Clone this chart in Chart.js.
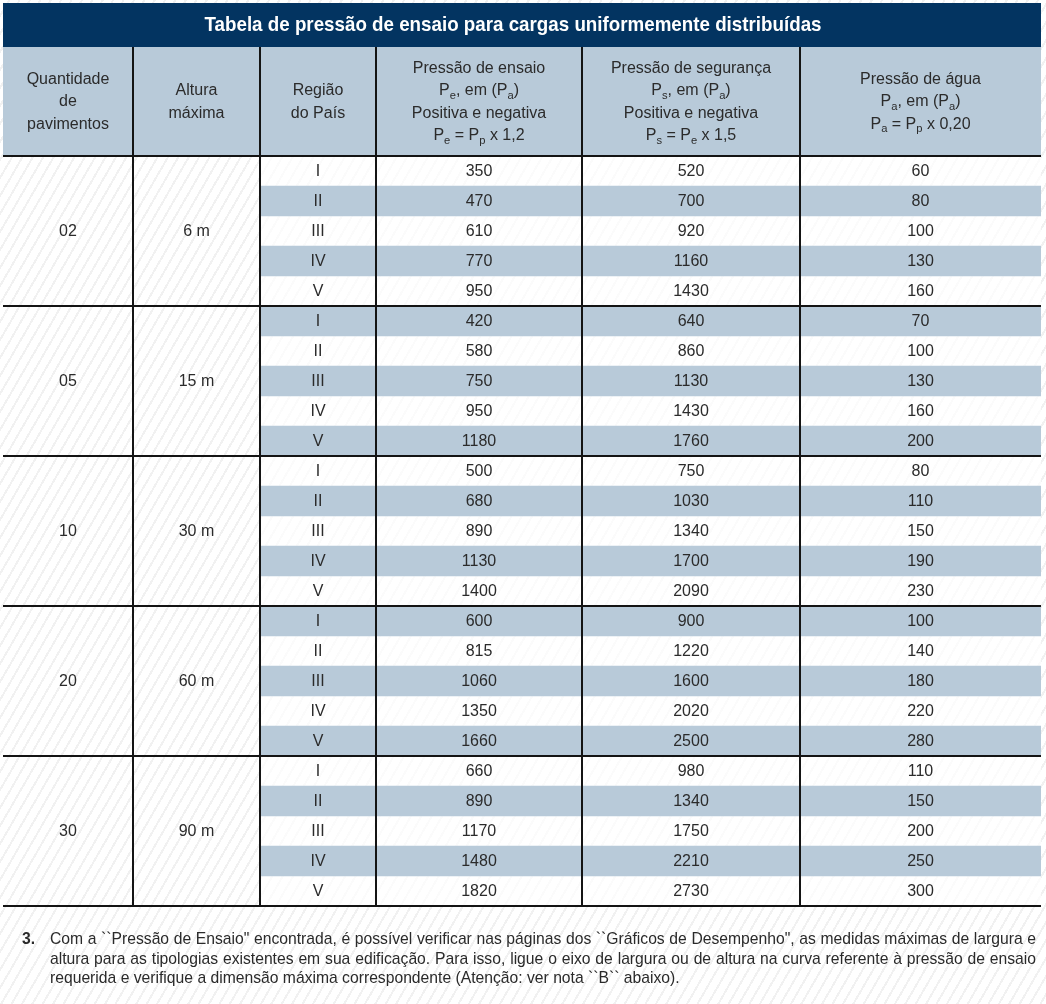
<!DOCTYPE html>
<html lang="pt">
<head>
<meta charset="utf-8">
<title>Tabela de pressão de ensaio</title>
<script src="https://cdn.jsdelivr.net/npm/chart.js@4.4.1/dist/chart.umd.min.js"></script>
<style>
html,body{margin:0;padding:0;background:#fff;}
#wrap{position:relative;width:1046px;height:1004px;overflow:hidden;
  background:repeating-linear-gradient(120deg,#fff 0,#fff 7px,#f1f1f1 7px,#f1f1f1 9px);}
#tabela{position:absolute;left:0;top:0;}
.nota{position:absolute;left:22px;top:929px;width:1014px;font-family:"Liberation Sans",Arial,sans-serif;
  font-size:15.7px;line-height:19.5px;color:#2a2a2a;}
.nota .num{position:absolute;left:0;top:0;font-weight:bold;}
.nota .txt{position:absolute;left:28px;top:0;width:986px;}
.nota .lin{white-space:nowrap;}
.nota .just{text-align:justify;text-align-last:justify;}
</style>
</head>
<body>
<div id="wrap">
  <canvas id="tabela" width="1046" height="1004"></canvas>
  <div class="nota">
    <span class="num">3.</span>
    <div class="txt">
      <div class="lin just">Com a ``Pressão de Ensaio" encontrada, é possível verificar nas páginas dos ``Gráficos de Desempenho", as medidas máximas de largura e</div>
      <div class="lin just">altura para as tipologias existentes em sua edificação. Para isso, ligue o eixo de largura ou de altura na curva referente à pressão de ensaio</div>
      <div class="lin">requerida e verifique a dimensão máxima correspondente (Atenção: ver nota ``B`` abaixo).</div>
    </div>
  </div>
</div>
<script>

// dados da tabela
var titulo = "Tabela de pressão de ensaio para cargas uniformemente distribuídas";
var pavimentos = ["02", "05", "10", "20", "30"];
var alturas = ["6 m", "15 m", "30 m", "60 m", "90 m"];
var regioes = ["I", "II", "III", "IV", "V"];
var pressaoEnsaio = [350, 470, 610, 770, 950, 420, 580, 750, 950, 1180, 500, 680, 890, 1130, 1400, 600, 815, 1060, 1350, 1660, 660, 890, 1170, 1480, 1820];
var pressaoSeguranca = [520, 700, 920, 1160, 1430, 640, 860, 1130, 1430, 1760, 750, 1030, 1340, 1700, 2090, 900, 1220, 1600, 2020, 2500, 980, 1340, 1750, 2210, 2730];
var pressaoAgua = [60, 80, 100, 130, 160, 70, 100, 130, 160, 200, 80, 110, 150, 190, 230, 100, 140, 180, 220, 280, 110, 150, 200, 250, 300];

// cabecalhos ( _x = subscrito )
var cabecalhos = [
  ["Quantidade", "de", "pavimentos"],
  ["Altura", "máxima"],
  ["Região", "do País"],
  ["Pressão de ensaio", "P_e, em (P_a)", "Positiva e negativa", "P_e = P_p x 1,2"],
  ["Pressão de segurança", "P_s, em (P_a)", "Positiva e negativa", "P_s = P_e x 1,5"],
  ["Pressão de água", "P_a, em (P_a)", "P_a = P_p x 0,20"]
];

// bordas das colunas (unidades do eixo x)
var colunas = [0, 130, 257, 373, 579, 797, 1038];

var AZUL = "#b8cad9";
var MARINHO = "#033461";
var TEXTO = "#2b2b2b";
var FONTE = '"Liberation Sans", Arial, sans-serif';

// linhas (uma por região de cada grupo)
var linhas = [];
pavimentos.forEach(function (p) {
  regioes.forEach(function (r) { linhas.push(p + " - " + r); });
});

// faixas azuis alternadas e faixas brancas
var faixasAzuis = linhas.map(function (l, i) {
  return i % 2 == 1 ? [colunas[2], colunas[6]] : null;
});
var faixasBrancas = linhas.map(function (l, i) {
  return i % 2 == 0 ? [colunas[2], colunas[6]] : null;
});

function partesTexto(s) {
  var partes = [];
  for (var i = 0; i < s.length; i++) {
    if (s[i] == "_" && i + 1 < s.length) {
      partes.push({ t: s[i + 1], sub: true });
      i++;
    } else {
      if (partes.length && !partes[partes.length - 1].sub) partes[partes.length - 1].t += s[i];
      else partes.push({ t: s[i], sub: false });
    }
  }
  return partes;
}

function textoRico(ctx, s, cx, cy, tam) {
  var partes = partesTexto(s);
  var total = 0;
  partes.forEach(function (p) {
    ctx.font = (p.sub ? tam * 0.7 : tam) + "px " + FONTE;
    p.w = ctx.measureText(p.t).width;
    total += p.w;
  });
  var x = cx - total / 2;
  ctx.textAlign = "left";
  partes.forEach(function (p) {
    ctx.font = (p.sub ? tam * 0.7 : tam) + "px " + FONTE;
    ctx.fillText(p.t, x, p.sub ? cy + tam * 0.3 : cy);
    x += p.w;
  });
}

var tabelaPlugin = {
  id: "tabela",
  afterDraw: function (chart) {
    var ctx = chart.ctx;
    var sx = chart.scales.x;
    var sy = chart.scales.y;
    var area = chart.chartArea;
    var esq = sx.getPixelForValue(colunas[0]);
    var dir = sx.getPixelForValue(colunas[6]);
    var faixa = sy.getPixelForValue(1) - sy.getPixelForValue(0);
    var topoTitulo = 3, baseTitulo = 47;

    ctx.save();

    // barra do titulo
    ctx.fillStyle = MARINHO;
    ctx.fillRect(esq, topoTitulo, dir - esq, baseTitulo - topoTitulo);
    ctx.fillStyle = "#ffffff";
    ctx.font = "bold 21px " + FONTE;
    ctx.textBaseline = "middle";
    ctx.textAlign = "center";
    var larg = ctx.measureText(titulo).width;
    var esc = 617 / larg;
    ctx.save();
    ctx.translate(513, 25);
    ctx.scale(esc, 1);
    ctx.fillText(titulo, 0, 0);
    ctx.restore();

    // fundo dos cabecalhos
    ctx.fillStyle = AZUL;
    ctx.fillRect(esq, baseTitulo, dir - esq, area.top - baseTitulo);

    // textos dos cabecalhos
    ctx.fillStyle = TEXTO;
    var meio = (baseTitulo + area.top) / 2 + 0.5;
    cabecalhos.forEach(function (linhasCab, c) {
      var cx = sx.getPixelForValue((colunas[c] + colunas[c + 1]) / 2);
      var n = linhasCab.length;
      linhasCab.forEach(function (s, k) {
        var cy = meio + (k - (n - 1) / 2) * 22.5;
        textoRico(ctx, s, cx, cy, 16);
      });
    });

    // textos do corpo
    ctx.font = "16px " + FONTE;
    ctx.textAlign = "center";
    ctx.fillStyle = TEXTO;
    var cxs = [];
    for (var c = 0; c < 6; c++) cxs.push(sx.getPixelForValue((colunas[c] + colunas[c + 1]) / 2));
    linhas.forEach(function (l, i) {
      var cy = sy.getPixelForValue(i) + 1;
      ctx.fillText(regioes[i % 5], cxs[2], cy);
      ctx.fillText(String(pressaoEnsaio[i]), cxs[3], cy);
      ctx.fillText(String(pressaoSeguranca[i]), cxs[4], cy);
      ctx.fillText(String(pressaoAgua[i]), cxs[5], cy);
    });
    pavimentos.forEach(function (p, g) {
      var cy = sy.getPixelForValue(g * 5 + 2) + 1;
      ctx.fillText(p, cxs[0], cy);
      ctx.fillText(alturas[g], cxs[1], cy);
    });

    // linhas verticais
    ctx.strokeStyle = "#141414";
    ctx.lineWidth = 2;
    ctx.beginPath();
    for (var v = 1; v < 6; v++) {
      var x = Math.round(sx.getPixelForValue(colunas[v]));
      ctx.moveTo(x, baseTitulo);
      ctx.lineTo(x, area.bottom);
    }
    ctx.stroke();

    // linhas horizontais (grupos)
    ctx.lineWidth = 2.2;
    ctx.beginPath();
    ctx.moveTo(esq, area.top);
    ctx.lineTo(dir, area.top);
    for (var g = 1; g <= 5; g++) {
      var y = Math.round(sy.getPixelForValue(g * 5 - 1) + faixa / 2);
      ctx.moveTo(esq, y);
      ctx.lineTo(dir, y);
    }
    ctx.stroke();

    ctx.restore();
  }
};

var ctx = document.getElementById("tabela").getContext("2d");
var grafico = new Chart(ctx, {
  type: "bar",
  data: {
    labels: linhas,
    datasets: [{
      label: "faixas azuis",
      data: faixasAzuis,
      backgroundColor: AZUL,
      borderWidth: 0,
      barPercentage: 1,
      categoryPercentage: 1,
      grouped: false
    }, {
      label: "faixas brancas",
      data: faixasBrancas,
      backgroundColor: "rgba(255,255,255,0.7)",
      borderWidth: 0,
      barPercentage: 1,
      categoryPercentage: 1,
      grouped: false
    }]
  },
  options: {
    indexAxis: "y",
    responsive: false,
    animation: false,
    devicePixelRatio: 1,
    layout: { padding: { left: 3, right: 5, top: 156, bottom: 98 } },
    scales: {
      x: { type: "linear", min: 0, max: 1038, display: false },
      y: { display: false, offset: true }
    },
    plugins: {
      legend: { display: false },
      tooltip: { enabled: false }
    }
  },
  plugins: [tabelaPlugin]
});
</script>
</body>
</html>
